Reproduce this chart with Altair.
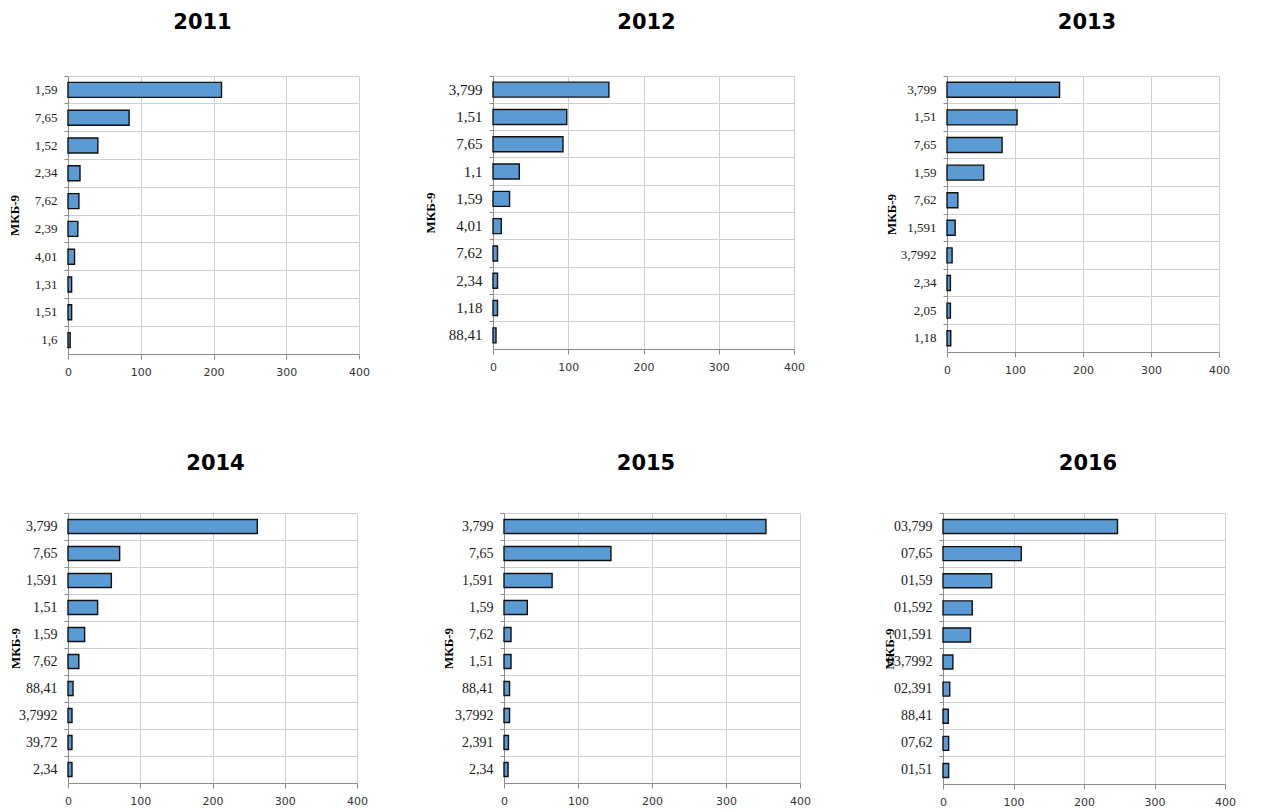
import altair as alt
import pandas as pd

years = ["2011", "2012", "2013", "2014", "2015", "2016"]

codes_2011 = ["1,59", "7,65", "1,52", "2,34", "7,62", "2,39", "4,01", "1,31", "1,51", "1,6"]
vals_2011 = [211, 84, 41, 16.5, 15, 13.5, 9, 5, 5, 3]

codes_2012 = ["3,799", "1,51", "7,65", "1,1", "1,59", "4,01", "7,62", "2,34", "1,18", "88,41"]
vals_2012 = [154, 98, 93, 35, 22, 11, 6, 6, 6, 4]

codes_2013 = ["3,799", "1,51", "7,65", "1,59", "7,62", "1,591", "3,7992", "2,34", "2,05", "1,18"]
vals_2013 = [165.5, 103, 81, 54, 16, 12, 7.5, 5, 5, 5.5]

codes_2014 = ["3,799", "7,65", "1,591", "1,51", "1,59", "7,62", "88,41", "3,7992", "39,72", "2,34"]
vals_2014 = [262, 71.5, 60, 41, 23, 15, 7, 5.5, 5.5, 5.5]

codes_2015 = ["3,799", "7,65", "1,591", "1,59", "7,62", "1,51", "88,41", "3,7992", "2,391", "2,34"]
vals_2015 = [354, 144.5, 65, 31.5, 9.5, 9.5, 7.5, 7.5, 6, 5.5]

codes_2016 = ["03,799", "07,65", "01,59", "01,592", "01,591", "03,7992", "02,391", "88,41", "07,62", "01,51"]
vals_2016 = [247.5, 111, 69, 41.5, 39, 14, 9.5, 7.5, 8, 8]

x_ticks = [0, 100, 200, 300, 400]
axis_title = "МКБ-9"

BAR = "#5b9bd5"
GRID = "#d0d0d0"
AXC = "#8c8c8c"


def panel(year, codes, vals, w, h, bar_size, label_size, title_pad, title_dx, title_off):
    df = pd.DataFrame({"code": codes, "n": vals})
    return (
        alt.Chart(df)
        .mark_bar(size=bar_size, color=BAR, stroke="#111111", strokeWidth=1.4)
        .encode(
            x=alt.X(
                "n:Q",
                scale=alt.Scale(domain=[0, 400], nice=False),
                axis=alt.Axis(
                    values=x_ticks,
                    title=None,
                    grid=True,
                    gridColor=GRID,
                    labelFlush=False,
                    tickSize=5,
                    labelPadding=7,
                    labelFont="DejaVu Sans",
                    labelFontSize=11,
                    labelColor="#333333",
                    domainColor=AXC,
                    tickColor=AXC,
                ),
            ),
            y=alt.Y(
                "code:N",
                sort=None,
                scale=alt.Scale(paddingInner=0, paddingOuter=0),
                axis=alt.Axis(
                    title=axis_title,
                    titleFont="Liberation Serif",
                    titleFontSize=13,
                    titleFontWeight="bold",
                    titleColor="#000000",
                    titlePadding=title_pad,
                    bandPosition=0,
                    grid=True,
                    gridColor=GRID,
                    tickSize=4,
                    labelPadding=7,
                    labelFont="Liberation Serif",
                    labelFontSize=label_size,
                    labelColor="#1a1a1a",
                    domainColor=AXC,
                    tickColor=AXC,
                ),
            ),
        )
        .properties(
            width=w,
            height=h,
            title=alt.TitleParams(
                year,
                font="DejaVu Sans",
                fontSize=21,
                fontWeight="bold",
                color="#000000",
                frame="group",
                anchor="middle",
                dx=title_dx,
                offset=title_off,
            ),
        )
    )


p1 = panel(years[0], codes_2011, vals_2011, 291, 278, 15, 13, 13, -11, 43)
p2 = panel(years[1], codes_2012, vals_2012, 301, 273, 15, 15, 11, 3, 43)
p3 = panel(years[2], codes_2013, vals_2013, 272, 276, 15, 13, 2, 4, 43)
p4 = panel(years[3], codes_2014, vals_2014, 289, 270, 14, 14, -4, 3, 39)
p5 = panel(years[4], codes_2015, vals_2015, 296, 270, 14, 14, -1, -6, 39)
p6 = panel(years[5], codes_2016, vals_2016, 282, 271, 14, 14, -10, 4, 39)

row1 = alt.hconcat(alt.hconcat(p1, p2, spacing=54), p3, spacing=80)
row2 = alt.hconcat(alt.hconcat(p4, p5, spacing=74), p6, spacing=72)

chart = (
    alt.vconcat(row1, row2, spacing=75)
    .properties(
        padding={"left": 0, "top": 3, "right": 0, "bottom": 0},
        background="white",
    )
    .configure_view(stroke=None)
)

chart.save("out.html", embed_options={"renderer": "svg", "actions": False})
